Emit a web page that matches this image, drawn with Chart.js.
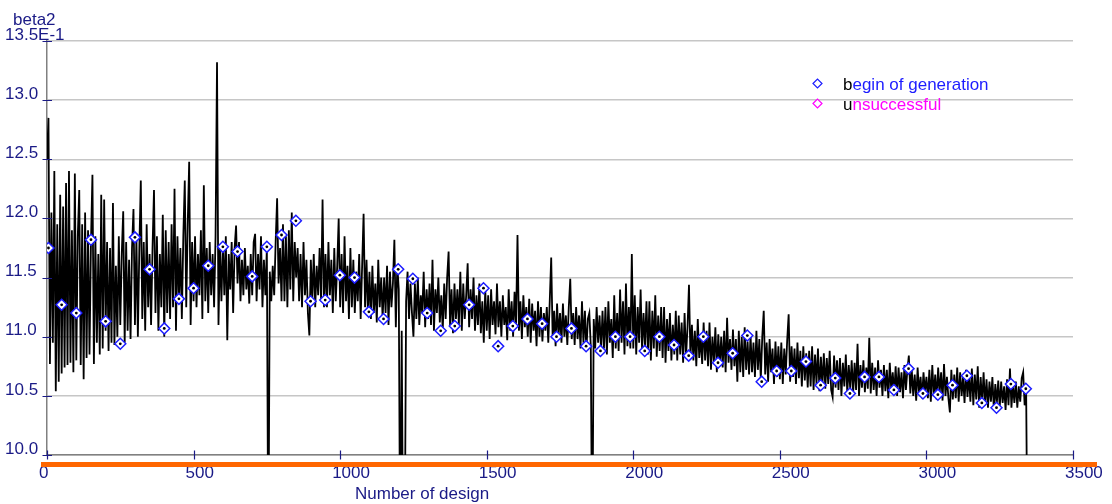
<!DOCTYPE html>
<html>
<head>
<meta charset="utf-8">
<script src="https://cdn.jsdelivr.net/npm/chart.js@4.4.1/dist/chart.umd.min.js"></script>
<style>
  html, body { margin: 0; padding: 0; background: #fff; }
</style>
</head>
<body>
<canvas id="betaChart" width="1112" height="504"></canvas>
<script>
// beta2 (x 1E-1) sampled every 5 designs, one row per 50 designs
const designStep = 5;
const beta2Values = [
  12.50, 12.85, 10.77, 12.05, 10.95, 12.40, 10.54, 11.95, 10.62, 12.20,
  10.69, 12.10, 10.74, 12.30, 10.76, 12.40, 10.78, 11.90, 10.70, 12.38,
  10.80, 11.85, 12.24, 10.76, 11.95, 10.64, 12.05, 10.82, 11.90, 10.85,
  11.80, 12.37, 10.77, 11.85, 10.95, 11.70, 10.85, 12.20, 10.90, 12.16,
  11.05, 11.80, 10.88, 11.75, 10.95, 12.13, 10.93, 11.60, 11.00, 11.85,
  11.10, 11.70, 12.06, 10.95, 11.80, 11.05, 11.65, 10.98, 11.75, 12.08,
  11.10, 11.85, 11.00, 11.75, 12.32, 11.15, 11.80, 11.05, 11.95, 11.25,
  11.70, 11.10, 11.75, 12.24, 11.20, 11.85, 11.05, 11.70, 11.25, 12.03,
  11.00, 11.90, 11.20, 11.80, 11.15, 11.95, 11.25, 12.25, 11.05, 11.85,
  11.30, 11.75, 11.15, 11.85, 12.32, 11.25, 11.95, 12.48, 11.10, 11.80,
  11.30, 11.85, 11.25, 11.70, 11.35, 11.90, 11.15, 12.28, 11.30, 11.75,
  11.20, 11.80, 11.35, 11.70, 11.25, 11.85, 13.32, 11.10, 11.75, 11.30,
  11.80, 11.35, 11.85, 10.97, 11.70, 11.40, 11.80, 11.20, 11.75, 11.94,
  11.45, 11.80, 11.30, 11.65, 11.35, 11.75, 11.40, 11.60, 11.28, 11.70,
  11.35, 11.80, 11.87, 11.30, 11.70, 11.40, 11.85, 11.25, 11.65, 11.35,
  11.75, 9.00, 11.55, 11.30, 11.60, 11.35, 11.80, 12.17, 11.45, 11.75,
  11.30, 11.95, 11.30, 11.85, 11.25, 11.90, 11.40, 12.05, 11.30, 11.80,
  11.50, 11.75, 11.30, 11.70, 11.25, 11.80, 11.35, 11.65, 11.20, 11.01,
  11.65, 11.30, 11.70, 11.25, 11.60, 11.35, 11.75, 11.30, 12.16, 11.25,
  11.70, 11.25, 11.80, 11.35, 11.65, 11.20, 11.75, 11.30, 11.60, 12.00,
  11.25, 11.70, 11.20, 11.85, 11.30, 11.60, 11.15, 11.75, 11.25, 11.65,
  11.20, 11.55, 11.30, 11.70, 11.15, 11.60, 12.04, 11.25, 11.65, 11.18,
  11.55, 11.15, 11.60, 11.20, 11.45, 11.12, 11.65, 11.25, 11.50, 11.15,
  11.50, 11.20, 11.60, 11.10, 11.55, 11.25, 11.45, 11.82, 11.08, 11.60,
  11.40, 9.00, 11.05, 9.00, 9.00, 11.30, 11.55, 11.15, 11.45, 11.20,
  11.00, 11.45, 11.15, 11.50, 11.10, 11.35, 11.20, 11.55, 11.08, 11.40,
  11.15, 11.45, 11.10, 11.65, 11.05, 11.40, 11.20, 11.50, 11.12, 11.35,
  11.05, 11.45, 11.15, 11.50, 11.72, 11.10, 11.40, 11.03, 11.45, 11.15,
  11.40, 11.10, 11.55, 11.05, 11.45, 11.15, 11.35, 11.62, 11.08, 11.40,
  11.15, 11.50, 11.05, 11.35, 11.10, 11.45, 11.03, 11.30, 10.95, 11.40,
  11.05, 11.35, 10.98, 11.40, 11.10, 11.30, 11.02, 11.45, 11.08, 11.30,
  11.00, 11.35, 11.10, 11.25, 10.97, 11.40, 11.05, 11.30, 11.00, 11.38,
  11.10, 11.86, 11.05, 11.30, 10.98, 11.35, 11.08, 11.25, 11.00, 11.32,
  10.95, 11.28, 11.05, 11.22, 10.92, 11.30, 11.00, 11.25, 10.96, 11.20,
  11.05, 11.25, 10.95, 11.30, 11.67, 10.98, 11.22, 10.92, 11.28, 11.00,
  11.20, 10.95, 11.28, 11.00, 11.18, 10.93, 11.25, 11.49, 10.98, 11.20,
  10.93, 11.25, 10.98, 11.18, 10.90, 11.30, 10.95, 11.22, 10.88, 11.15,
  11.20, 10.92, 9.00, 11.15, 10.90, 11.25, 10.95, 11.18, 10.88, 11.22,
  10.90, 11.25, 10.85, 11.30, 10.95, 11.15, 10.82, 11.35, 10.90, 11.20,
  10.88, 11.40, 10.95, 11.30, 10.85, 11.45, 10.92, 11.25, 10.90, 11.70,
  10.90, 11.35, 10.85, 11.25, 10.95, 11.40, 10.88, 11.20, 10.92, 11.30,
  10.85, 11.30, 10.80, 11.22, 10.90, 11.35, 10.83, 11.18, 10.88, 11.25,
  10.82, 11.25, 10.78, 11.15, 10.88, 11.20, 10.80, 11.10, 10.85, 11.22,
  10.80, 11.18, 10.85, 11.12, 10.78, 11.20, 10.83, 11.08, 11.44, 10.82,
  11.10, 10.80, 11.05, 10.75, 11.15, 10.82, 11.00, 10.77, 11.12, 10.80,
  11.05, 10.75, 11.12, 10.72, 11.00, 10.78, 11.08, 10.70, 11.02, 10.76,
  11.00, 10.74, 11.05, 10.70, 11.16, 10.78, 10.98, 10.72, 11.06, 10.75,
  10.98, 10.62, 11.05, 10.70, 11.00, 10.66, 11.08, 10.72, 10.96, 10.68,
  11.02, 10.70, 10.95, 10.66, 11.05, 10.72, 10.98, 10.64, 11.00, 11.22,
  10.68, 10.95, 10.62, 10.98, 10.70, 10.90, 10.60, 10.96, 10.66, 10.92,
  10.64, 10.95, 10.60, 10.90, 10.68, 10.97, 11.19, 10.62, 10.92, 10.66,
  10.90, 10.60, 10.95, 10.65, 10.88, 10.58, 10.92, 10.63, 10.86, 10.57,
  10.88, 10.58, 10.92, 10.55, 10.85, 10.60, 10.90, 10.54, 10.83, 10.58,
  10.86, 10.56, 10.82, 10.60, 10.88, 10.55, 10.49, 10.84, 10.57, 10.80,
  10.55, 10.82, 10.50, 10.78, 10.58, 10.85, 10.52, 10.76, 10.56, 10.80,
  10.52, 10.78, 10.55, 10.94, 10.50, 10.76, 10.57, 10.80, 10.53, 10.74,
  10.56, 10.99, 10.52, 10.78, 10.55, 10.74, 10.50, 10.80, 10.57, 10.72,
  10.50, 10.76, 10.54, 10.72, 10.48, 10.78, 10.55, 10.70, 10.52, 10.75,
  10.50, 10.74, 10.53, 10.70, 10.48, 10.76, 10.55, 10.72, 10.84, 10.52,
  10.72, 10.50, 10.68, 10.46, 10.74, 10.52, 10.66, 10.48, 10.70, 10.53,
  10.66, 10.48, 10.72, 10.45, 10.76, 10.50, 10.68, 10.47, 10.74, 10.52,
  10.70, 10.46, 10.77, 10.50, 10.66, 10.48, 10.36, 10.72, 10.47, 10.68,
  10.48, 10.74, 10.45, 10.70, 10.50, 10.66, 10.44, 10.72, 10.49, 10.68,
  10.45, 10.73, 10.42, 10.68, 10.47, 10.75, 10.40, 10.66, 10.44, 10.70,
  10.42, 10.64, 10.40, 10.62, 10.45, 10.66, 10.38, 10.60, 10.43, 10.63,
  10.40, 10.62, 10.44, 10.58, 10.38, 10.64, 10.42, 10.73, 10.40, 10.60,
  10.44, 10.62, 10.40, 10.58, 10.45, 10.65, 10.70, 10.42, 10.60, 9.00
];

// begin of generation markers
const genDesigns = [
  5, 50, 100, 150, 200, 250, 300, 350, 400, 450, 500, 550, 600, 650, 700, 750, 800, 849,
  899, 949, 999, 1049, 1098, 1148, 1198, 1248, 1297, 1343, 1391, 1440, 1489, 1539, 1589,
  1639, 1689, 1738, 1789, 1839, 1888, 1939, 1989, 2039, 2089, 2139, 2189, 2239, 2289,
  2339, 2389, 2438, 2489, 2539, 2589, 2639, 2689, 2739, 2789, 2838, 2889, 2939, 2988,
  3039, 3089, 3138, 3189, 3239, 3288, 3339
];
const genBeta2 = [
  11.75, 11.27, 11.20, 11.82, 11.13, 10.94, 11.84, 11.57, 11.07, 11.32, 11.41, 11.60,
  11.76, 11.72, 11.51, 11.76, 11.86, 11.98,
  11.30, 11.31, 11.52, 11.50, 11.21, 11.15, 11.57, 11.49, 11.20, 11.05, 11.09, 11.27,
  11.41, 10.92, 11.09, 11.15, 11.11, 11.00, 11.07, 10.92, 10.88,
  11.00, 11.00, 10.88, 11.00, 10.93, 10.84, 11.00, 10.78, 10.86, 11.01,
  10.62, 10.71, 10.71, 10.79, 10.59, 10.65, 10.52, 10.66, 10.66, 10.55,
  10.73, 10.52, 10.51, 10.59, 10.67, 10.44, 10.40, 10.60, 10.56
];
const unsuccessfulDesigns = [];
const unsuccessfulBeta2 = [];

const xTickLabels = ['0', '500', '1000', '1500', '2000', '2500', '3000', '3500'];
const yTickLabels = ['10.0', '10.5', '11.0', '11.5', '12.0', '12.5', '13.0', '13.5E-1'];

const navy = '#1a1a86';
const fontFamily = '"Liberation Sans", Arial, sans-serif';
Chart.defaults.font.family = fontFamily;

const toPoints = (xs, ys) => xs.map((x, i) => ({ x: x, y: ys[i] }));

const extras = {
  id: 'extras',
  afterDraw(chart) {
    const { ctx, chartArea: a, scales: { x, y } } = chart;
    ctx.save();
    // tick marks crossing the axis lines
    ctx.strokeStyle = navy;
    ctx.lineWidth = 1.2;
    ctx.beginPath();
    y.ticks.forEach(t => {
      const py = Math.round(y.getPixelForValue(t.value)) + 0.5;
      ctx.moveTo(a.left - 4.5, py);
      ctx.lineTo(a.left + 5, py);
    });
    x.ticks.forEach(t => {
      const px = Math.round(x.getPixelForValue(t.value)) + 0.5;
      ctx.moveTo(px, a.bottom - 4.5);
      ctx.lineTo(px, a.bottom + 4.5);
    });
    ctx.stroke();

    // orange band under the x axis
    ctx.fillStyle = '#ff6600';
    ctx.fillRect(a.left - 6, a.bottom + 7, a.right - a.left + 30, 5);

    ctx.font = '17px ' + fontFamily;
    ctx.textAlign = 'left';
    ctx.fillStyle = navy;

    // top y label carries the exponent and runs past the axis box
    ctx.textBaseline = 'middle';
    const topTick = y.ticks[y.ticks.length - 1];
    ctx.fillText(yTickLabels[y.ticks.length - 1], y.left, y.getPixelForValue(topTick.value) - 6);

    // axis titles
    ctx.textBaseline = 'alphabetic';
    ctx.fillText('beta2', a.left - 34, a.top - 16);
    ctx.fillText('Number of design', a.left + 308, a.bottom + 44);

    // legend: first letter black, rest in series colour
    chart.data.datasets.filter(d => d.legendText).forEach((d, i) => {
      const cy = a.top + 42.5 + i * 20;
      ctx.strokeStyle = d.borderColor;
      ctx.fillStyle = '#fff';
      Chart.helpers.drawPoint(ctx, { pointStyle: 'rectRot', radius: 4.5, borderWidth: 1.4, rotation: 0 }, a.left + 770.5, cy);
      const tx = a.left + 796;
      const by = cy + 6.5;
      const first = d.legendText.charAt(0);
      ctx.fillStyle = '#000';
      ctx.fillText(first, tx, by);
      ctx.fillStyle = d.borderColor;
      ctx.fillText(d.legendText.slice(1), tx + ctx.measureText(first).width, by);
    });
    ctx.restore();
  }
};

new Chart(document.getElementById('betaChart'), {
  type: 'scatter',
  data: {
    datasets: [
      {
        type: 'line',
        label: 'beta2',
        data: beta2Values.map((v, i) => ({ x: i * designStep, y: v })),
        borderColor: '#000',
        borderWidth: 1.8,
        pointRadius: 0,
        tension: 0,
        order: 3
      },
      {
        label: 'begin of generation',
        legendText: 'begin of generation',
        data: toPoints(genDesigns, genBeta2),
        pointStyle: 'rectRot',
        pointRadius: 5.5,
        borderWidth: 1.5,
        borderColor: '#1c1cff',
        backgroundColor: '#ffffff',
        order: 2
      },
      {
        label: 'generation dot',
        data: toPoints(genDesigns, genBeta2),
        pointRadius: 1.4,
        borderWidth: 0,
        backgroundColor: '#000',
        order: 1
      },
      {
        label: 'unsuccessful',
        legendText: 'unsuccessful',
        data: toPoints(unsuccessfulDesigns, unsuccessfulBeta2),
        pointStyle: 'rectRot',
        pointRadius: 5.5,
        borderWidth: 1.5,
        borderColor: '#ff00ff',
        backgroundColor: '#ffffff',
        order: 0
      }
    ]
  },
  options: {
    responsive: false,
    animation: false,
    devicePixelRatio: 1,
    events: [],
    layout: { padding: { left: 5, right: 39, top: 41, bottom: 0 } },
    plugins: {
      legend: { display: false },
      tooltip: { enabled: false }
    },
    scales: {
      x: {
        type: 'linear',
        min: 0,
        max: 3500,
        afterFit: s => { s.height = 49; s.paddingLeft = 0; s.paddingRight = 0; },
        ticks: {
          stepSize: 500,
          align: 'start',
          labelOffset: -8,
          padding: 8,
          maxRotation: 0,
          autoSkip: false,
          color: navy,
          font: { size: 17 },
          callback: (v, i) => xTickLabels[i]
        },
        grid: { drawOnChartArea: false, drawTicks: false },
        border: { color: '#808080', width: 1.5 }
      },
      y: {
        min: 10,
        max: 13.5,
        afterFit: s => { s.width = 42; s.paddingTop = 0; s.paddingBottom = 0; },
        ticks: {
          stepSize: 0.5,
          crossAlign: 'far',
          labelOffset: -6,
          color: navy,
          font: { size: 17 },
          // the top label is drawn by the extras plugin
          callback: (v, i, ticks) => (i < ticks.length - 1 ? yTickLabels[i] : '')
        },
        grid: { color: '#c6c6c6', lineWidth: 1.5, drawTicks: false },
        border: { color: '#808080', width: 1.5 }
      }
    }
  },
  plugins: [extras]
});
</script>
</body>
</html>
